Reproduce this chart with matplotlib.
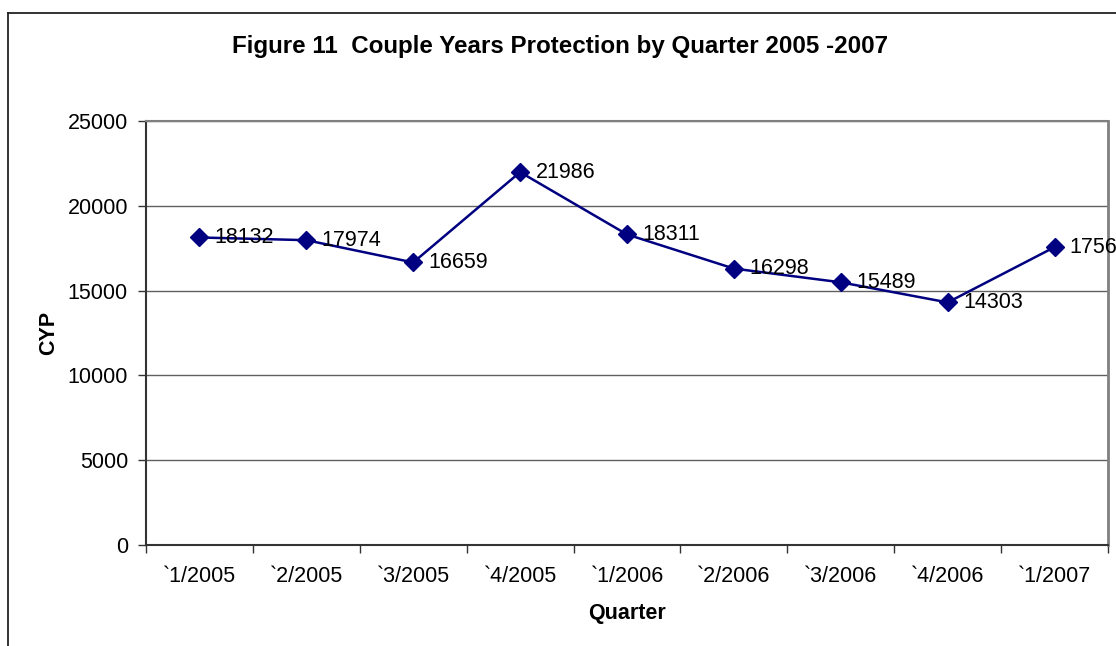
import matplotlib
matplotlib.use("Agg")
import matplotlib.pyplot as plt
from matplotlib.lines import Line2D

plt.rcParams['font.family'] = ['Liberation Sans', 'DejaVu Sans']

quarters = ["`1/2005", "`2/2005", "`3/2005", "`4/2005", "`1/2006",
            "`2/2006", "`3/2006", "`4/2006", "`1/2007"]
cyp = [18132, 17974, 16659, 21986, 18311, 16298, 15489, 14303, 17563]
y_ticks = [0, 5000, 10000, 15000, 20000, 25000]

W, H = 1116, 646
fig = plt.figure(figsize=(W / 100, H / 100), dpi=100)
fig.patch.set_facecolor("white")

# chart outer frame (left and top edges)
fig.add_artist(Line2D([8 / W, 8 / W], [0, 1 - 13 / H], transform=fig.transFigure,
                      color="#222222", lw=1.3))
fig.add_artist(Line2D([8 / W, 1], [1 - 13 / H, 1 - 13 / H], transform=fig.transFigure,
                      color="#222222", lw=1.3))

left, right, top, bottom = 146, 1108, 121, 545
ax = fig.add_axes([left / W, 1 - bottom / H, (right - left) / W, (bottom - top) / H])

x = list(range(len(quarters)))
ax.plot(x, cyp, color="#000080", lw=1.8, marker="D", markersize=9,
        markerfacecolor="#000080", markeredgecolor="#000080", zorder=3, clip_on=False)

for xi, v in zip(x, cyp):
    ax.annotate(str(v), (xi, v), xytext=(11, 0), textcoords="offset points",
                ha="left", va="center", fontsize=15.5, color="black",
                annotation_clip=False, zorder=4)

ax.set_xlim(-0.5, len(quarters) - 0.5)
ax.set_ylim(0, 25000)
ax.set_yticks(y_ticks)
ax.set_yticklabels([str(t) for t in y_ticks], fontsize=15.5)
ax.set_xticks(x)
ax.set_xticklabels(quarters, fontsize=15.5)
ax.set_xticks([i - 0.5 for i in range(len(quarters) + 1)], minor=True)
ax.tick_params(axis="x", which="major", length=0, pad=15)
ax.tick_params(axis="x", which="minor", length=6, width=1, direction="out", color="#333333")
ax.tick_params(axis="y", length=6, width=1, direction="out", color="#333333", pad=7)

ax.yaxis.grid(True, color="#606060", lw=1)
ax.set_axisbelow(True)

ax.spines["left"].set_color("#333333")
ax.spines["left"].set_linewidth(1.5)
ax.spines["bottom"].set_color("#333333")
ax.spines["bottom"].set_linewidth(1.5)
ax.spines["top"].set_color("#808080")
ax.spines["top"].set_linewidth(1.5)
ax.spines["right"].set_color("#808080")
ax.spines["right"].set_linewidth(2)

ax.set_xlabel("Quarter", fontsize=15.5, fontweight="bold", labelpad=12)
ax.set_ylabel("CYP", fontsize=15.5, fontweight="bold", labelpad=6)

fig.text(560 / W, 1 - 47 / H, "Figure 11  Couple Years Protection by Quarter 2005 -2007",
         ha="center", va="center", fontsize=17.4, fontweight="bold")

fig.savefig("out.png", dpi=100)
